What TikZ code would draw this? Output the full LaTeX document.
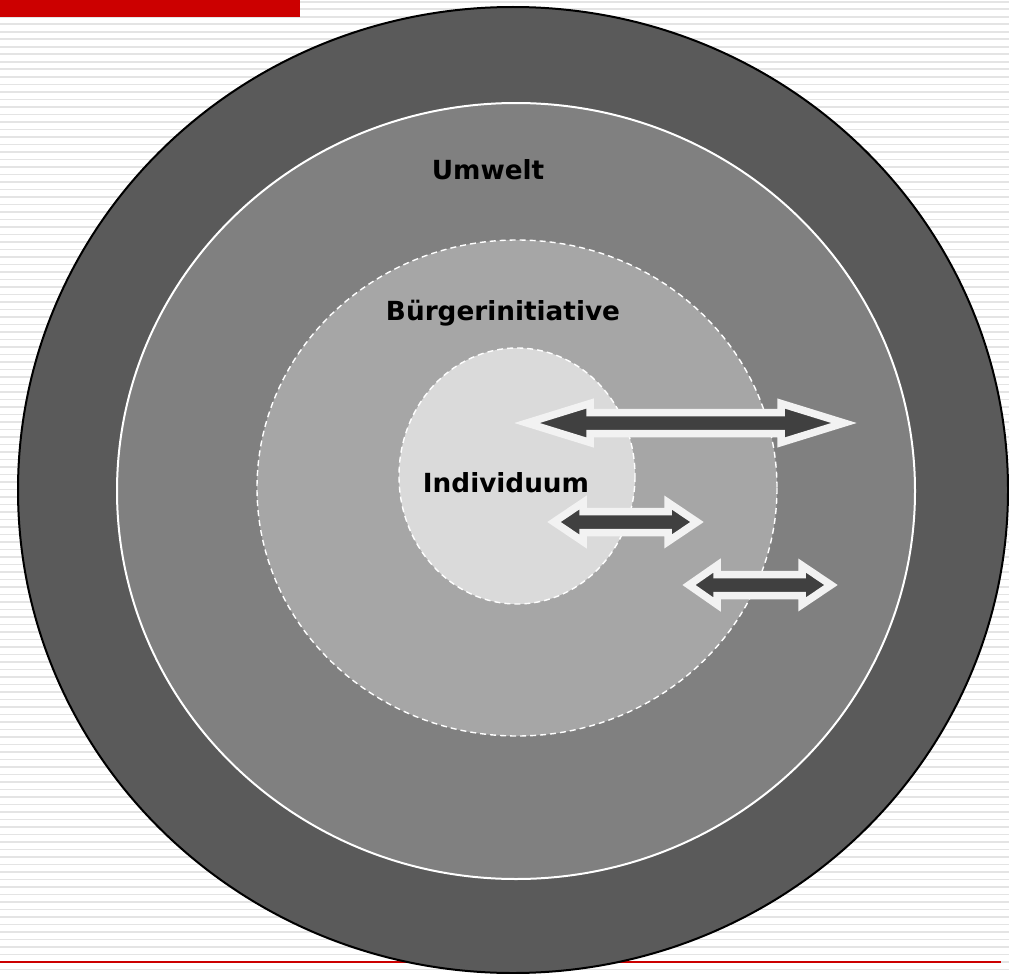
\documentclass[tikz,border=0pt]{standalone}
\usepackage{fontspec}
\setmainfont{DejaVu Sans}
\definecolor{redc}{HTML}{CC0000}
\definecolor{stripec}{HTML}{E4E4E4}
\definecolor{outerc}{HTML}{5A5A5A}
\definecolor{umweltc}{HTML}{808080}
\definecolor{buergerc}{HTML}{A6A6A6}
\definecolor{indivc}{HTML}{DADADA}
\definecolor{arrowdark}{HTML}{404040}
\definecolor{arrowlight}{HTML}{F2F2F2}
\tikzset{
  ring/.style={line width=2pt},
  dashring/.style={draw=white, line width=1.4pt, dash pattern=on 6pt off 4pt},
  blockarrow/.style={draw=arrowlight, fill=arrowdark, line width=7.5pt, line join=miter},
  lbl/.style={font=\bfseries\fontsize{26.3}{31}\selectfont, text=black, anchor=base, inner sep=0pt}
}
\begin{document}
\begin{tikzpicture}[x=1pt,y=-1pt]
\useasboundingbox (0,0) rectangle (1009,974);
\fill[white] (0,0) rectangle (1009,974);
\foreach \k in {0,...,129} \fill[stripec] (0,{1+7.5*\k}) rectangle (1009,{2.7+7.5*\k});
\fill[redc] (0,0) rectangle (300,16.7);
\draw[redc, line width=1.2pt] (0,962) -- (1001,962);
\begin{scope}
\clip (0,0) rectangle (1009,974);
\path[ring, draw=black, fill=outerc] (513,490) ellipse [x radius=495, y radius=483];
\path[ring, draw=white, fill=umweltc] (516,491) ellipse [x radius=399, y radius=388];
\path[dashring, fill=buergerc] (517,488) ellipse [x radius=260, y radius=248];
\path[dashring, fill=indivc] (517,476) ellipse [x radius=118, y radius=128];
\end{scope}
% arrows
\draw[blockarrow] (527,423) -- (590,403.5) -- (590,412.5) -- (781,412.5) -- (781,403.5) -- (844,423) -- (781,442.5) -- (781,433.5) -- (590,433.5) -- (590,442.5) -- cycle;
\draw[blockarrow] (554,522) -- (583,502.5) -- (583,511.5) -- (668,511.5) -- (668,502.5) -- (697,522) -- (668,541.5) -- (668,532.5) -- (583,532.5) -- (583,541.5) -- cycle;
\draw[blockarrow] (689,585) -- (717,565.5) -- (717,574.5) -- (802,574.5) -- (802,565.5) -- (831,585) -- (802,604.5) -- (802,595.5) -- (717,595.5) -- (717,604.5) -- cycle;
% labels
\node[lbl] (umwelt) at (488,179) {Umwelt};
\node[lbl] (buerger) at (503,320) {Bürgerinitiative};
\node[lbl] (indiv) at (506,492) {Individuum};
\end{tikzpicture}
\end{document}
